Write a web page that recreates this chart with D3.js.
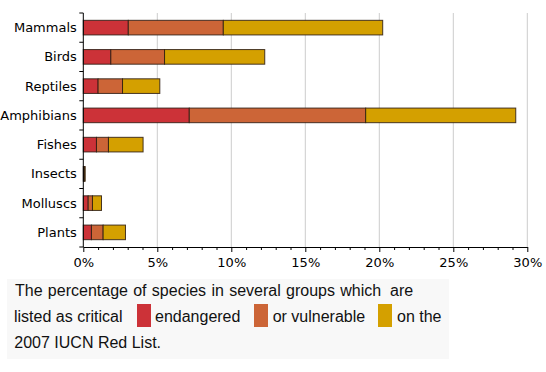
<!DOCTYPE html>
<html><head><meta charset="utf-8">
<script src="https://cdn.jsdelivr.net/npm/d3@7/dist/d3.min.js"></script>
<style>body{margin:0;background:#fff}svg{display:block}</style>
</head><body>
<svg id="c" width="546" height="372"></svg>
<script>
const categories = ["Mammals","Birds","Reptiles","Amphibians","Fishes","Insects","Molluscs","Plants"];
const seriesNames = ["critical","endangered","vulnerable"];
const critical   = [3.04, 1.86, 1.00, 7.16, 0.89, 0.03, 0.33, 0.55];
const endangered = [6.42, 3.63, 1.65, 11.92, 0.81, 0.04, 0.29, 0.79];
const vulnerable = [10.77, 6.77, 2.52, 10.14, 2.34, 0.06, 0.61, 1.51];
const seriesColors = ["#cc3238", "#cc6537", "#d4a000"];
const xTicks = [0, 5, 10, 15, 20, 25, 30];
const captionLine1 = ["The percentage of species in several groups which", "are"];
const captionLine2 = ["listed as critical", "endangered", "or vulnerable", "on the"];
const captionLine3 = "2007 IUCN Red List.";

const svg = d3.select("#c");
const x = d3.scaleLinear().domain([0, 30]).range([83.3, 527.3]);
const y = d3.scaleBand().domain(categories).range([13, 247]).paddingInner(0.5).paddingOuter(0.25);

// gridlines
svg.append("g").selectAll("line").data(xTicks.filter(d => d > 0)).join("line")
  .attr("x1", d => x(d)).attr("x2", d => x(d)).attr("y1", 13).attr("y2", 247)
  .attr("stroke", "#cccccc").attr("stroke-width", 1);

// stacked data
const rows = categories.map((c, i) => ({cat: c, critical: critical[i], endangered: endangered[i], vulnerable: vulnerable[i]}));
const stack = d3.stack().keys(seriesNames)(rows);
svg.append("g").selectAll("g").data(stack).join("g")
  .attr("fill", (d, i) => seriesColors[i])
  .selectAll("rect").data(d => d).join("rect")
  .attr("x", d => x(d[0])).attr("width", d => x(d[1]) - x(d[0]))
  .attr("y", d => y(d.data.cat)).attr("height", y.bandwidth())
  .attr("stroke", "#2a1a10").attr("stroke-width", 1).attr("stroke-opacity", 0.85);

// x axis
const xAxis = svg.append("g").attr("transform", "translate(0,247)")
  .call(d3.axisBottom(x).tickValues(xTicks).tickFormat(d => d + "%").tickSize(5).tickSizeOuter(0));
svg.append("g").attr("transform", "translate(0,247)")
  .call(d3.axisBottom(x).tickValues(d3.range(1, 30).filter(d => d % 5)).tickFormat("").tickSize(3).tickSizeOuter(0))
  .select(".domain").remove();
xAxis.selectAll("text").attr("font-family", "DejaVu Sans").attr("font-size", 13).attr("fill", "#000").attr("dy", "0.9em");

// y axis with ticks at band boundaries
const yAxis = svg.append("g").attr("transform", "translate(83.3,0)");
yAxis.append("line").attr("x1", 0).attr("x2", 0).attr("y1", 13).attr("y2", 247).attr("stroke", "#000");
const bounds = d3.range(categories.length + 1).map(i => 13 + i * y.step());
yAxis.selectAll(".t").data(bounds).join("line").attr("class", "t")
  .attr("x1", -4).attr("x2", 0).attr("y1", d => d).attr("y2", d => d).attr("stroke", "#000");
yAxis.selectAll("text").data(categories).join("text")
  .attr("x", -6.5).attr("y", d => y(d) + y.bandwidth() / 2).attr("dy", "0.35em")
  .attr("text-anchor", "end").attr("font-family", "DejaVu Sans").attr("font-size", 13).attr("fill", "#000")
  .text(d => d);

// caption
const cap = svg.append("g");
cap.append("rect").attr("x", 7).attr("y", 279).attr("width", 442).attr("height", 80).attr("fill", "#f8f8f8");
const fnt = "Liberation Sans, Arial, sans-serif";
const tx = (s, xx, yy) => cap.append("text").attr("x", xx).attr("y", yy).attr("font-family", fnt).attr("font-size", 16).attr("fill", "#111").text(s);
tx(captionLine1[0], 15, 296).attr("word-spacing", 0.85);
tx(captionLine1[1], 390, 296);
const l2x = [14, 155, 272.7, 397];
captionLine2.forEach((s, i) => tx(s, l2x[i], 322));
const swx = [137, 254, 378];
cap.selectAll(".sw").data(seriesColors).join("rect").attr("class", "sw")
  .attr("x", (d, i) => swx[i]).attr("y", 304).attr("width", 14).attr("height", 23).attr("fill", d => d);
tx(captionLine3, 14.3, 348);
</script>
</body></html>
